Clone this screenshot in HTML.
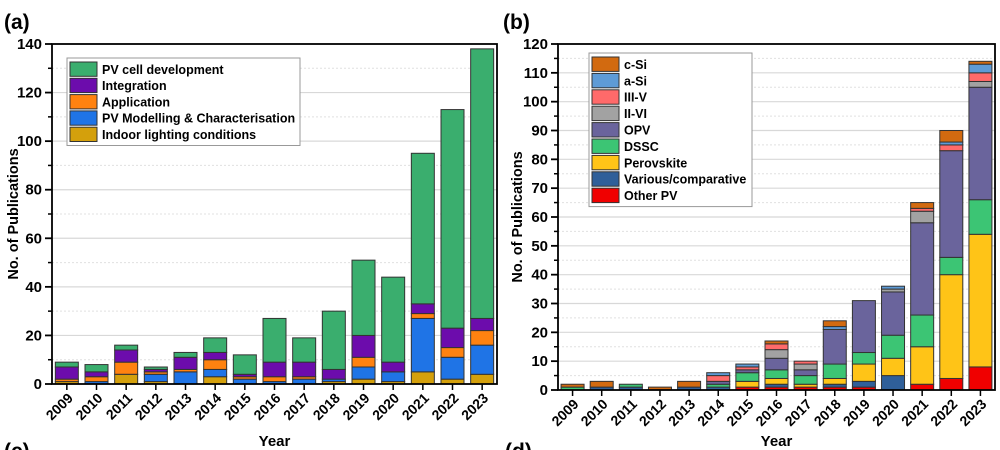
<!DOCTYPE html>
<html><head><meta charset="utf-8">
<style>
html,body{margin:0;padding:0;background:#fff;}
svg{display:block;font-family:"Liberation Sans",Arial,sans-serif;font-weight:bold;}
</style></head>
<body>
<svg id="chart" width="1000" height="450" viewBox="0 0 1000 450" xmlns="http://www.w3.org/2000/svg"></svg>
<script>
const years = ["2009","2010","2011","2012","2013","2014","2015","2016","2017","2018","2019","2020","2021","2022","2023"];
// Chart (a) series (bottom to top)
const aIndoor   = [1,0,4,1,0,3,0,0,0,1,2,1,5,2,4];
const aModel    = [0,1,0,3,5,3,2,1,2,1,5,4,22,9,12];
const aApp      = [1,2,5,1,1,4,1,2,1,0,4,0,2,4,6];
const aInteg    = [5,2,5,1,5,3,1,6,6,4,9,4,4,8,5];
const aCell     = [2,3,2,1,2,6,8,18,10,24,31,35,62,90,111];
const aTicks    = [0,20,40,60,80,100,120,140];
// Chart (b) series (bottom to top)
const bOther    = [0,0,0,0,0,0,1,1,1,1,1,0,2,4,8];
const bVarious  = [0,1,1,0,1,1,0,1,0,1,2,5,0,0,0];
const bPerov    = [0,0,0,0,0,0,2,2,1,2,6,6,13,36,46];
const bDSSC     = [1,0,1,0,0,1,3,3,3,5,4,8,11,6,12];
const bOPV      = [0,0,0,0,0,1,1,4,2,12,18,15,32,37,39];
const bIIVI     = [0,0,0,0,0,0,0,3,2,0,0,1,4,0,2];
const bIIIV     = [0,0,0,0,0,2,1,2,1,0,0,0,1,2,3];
const bASi      = [0,0,0,0,0,1,1,0,0,1,0,1,0,1,3];
const bCSi      = [1,2,0,1,2,0,0,1,0,2,0,0,2,4,1];
const bTicks    = [0,10,20,30,40,50,60,70,80,90,100,110,120];

const NS="http://www.w3.org/2000/svg";
const svg=document.getElementById('chart');
function el(tag,attrs,parent){const e=document.createElementNS(NS,tag);for(const k in attrs)e.setAttribute(k,attrs[k]);(parent||svg).appendChild(e);return e;}

function drawChart(cfg){
  const g=el('g',{});
  
  
  const {x0,x1,yTop,yBot,max}=cfg;
  const yS=v=>yBot-(v/max)*(yBot-yTop);
  const slot=(x1-x0)/years.length;
  const xC=i=>x0+slot*(i+0.5);
  cfg.ticks.forEach((t,i)=>{
    const y=yS(t);
    if(t>0&&t<max){const gl=el('line',{x1:x0,x2:x1,y1:y,y2:y,stroke:'#d8d8d8','stroke-width':1.2},g);
      }
    if(i<cfg.ticks.length-1){const ym=yS((t+cfg.ticks[i+1])/2);
      const gm=el('line',{x1:x0,x2:x1,y1:ym,y2:ym,stroke:'#e0e0e0','stroke-width':1,'stroke-dasharray':'2,2'},g);
      
      el('line',{x1:x0-4,x2:x0,y1:ym,y2:ym,stroke:'#000','stroke-width':1.5},g);}
    el('line',{x1:x0-7,x2:x0,y1:y,y2:y,stroke:'#000','stroke-width':1.8},g);
    const tx=el('text',{x:x0-10,y:y+5,'text-anchor':'end','font-size':15},g);
    tx.textContent=t;
    
  });
  years.forEach((yr,i)=>{
    let acc=0;
    cfg.series.forEach(s=>{
      const v=s.data[i];
      if(v>0){
        const r=el('rect',{x:xC(i)-cfg.bw/2,y:yS(acc+v),width:cfg.bw,height:yS(acc)-yS(acc+v),fill:s.color,stroke:'#333','stroke-width':1},g);
        
        
      }
      acc+=v;
    });
    el('line',{x1:xC(i),x2:xC(i),y1:yBot,y2:yBot+6,stroke:'#000','stroke-width':1.5},g);
    const tx=el('text',{x:0,y:0,'text-anchor':'end','font-size':14,transform:`translate(${xC(i)+7},${yBot+15}) rotate(-45)`},g);
    tx.textContent=yr;
    
  });
  const fr=el('rect',{x:x0,y:yTop,width:x1-x0,height:yBot-yTop,fill:'none',stroke:'#000','stroke-width':1.8},g);
  
  const xt=el('text',{x:(x0+x1)/2,y:446,'text-anchor':'middle','font-size':15},g);
  xt.textContent='Year';
  const cy=(yTop+yBot)/2;
  const yt=el('text',{x:0,y:0,'text-anchor':'middle','font-size':14.5,transform:`translate(${cfg.ytx},${cy}) rotate(-90)`},g);
  yt.textContent='No. of Publications';
  const pl=el('text',{x:cfg.lx,y:29,'font-size':21},g);
  pl.textContent=cfg.label;
  const L=cfg.legend;
  const lg=el('g',{},g);
  
  const items=cfg.series.slice().reverse();
  el('rect',{x:L.x,y:L.y,width:L.w,height:items.length*L.rh+6,fill:'#fff',stroke:'#999','stroke-width':1},lg);
  items.forEach((s,k)=>{
    const yy=L.y+3+k*L.rh;
    const e=el('g',{},lg);
    
    el('rect',{x:L.x+3,y:yy+1,width:27,height:L.rh-2,fill:s.color,stroke:'#333','stroke-width':1},e);
    const t=el('text',{x:L.x+35,y:yy+L.rh-3.5,'font-size':12.5},e);
    t.textContent=s.label;
  });
}

drawChart({name:'chart-a',label:'(a)',lx:4,x0:52,x1:497,yTop:44,yBot:384,max:140,bw:23,ytx:18,ticks:aTicks,
  legend:{x:67,y:58,w:233,rh:16.3},
  series:[
    {key:'indoor',label:'Indoor lighting conditions',color:'#d4a00c',data:aIndoor},
    {key:'modelling',label:'PV Modelling & Characterisation',color:'#1f74e6',data:aModel},
    {key:'application',label:'Application',color:'#ff8210',data:aApp},
    {key:'integration',label:'Integration',color:'#6c0cac',data:aInteg},
    {key:'pv-cell',label:'PV cell development',color:'#3aae6e',data:aCell}
  ]});
drawChart({name:'chart-b',label:'(b)',lx:503,x0:558,x1:995,yTop:44,yBot:390,max:120,bw:23,ytx:522,ticks:bTicks,
  legend:{x:589,y:53,w:163,rh:16.4},
  series:[
    {key:'other',label:'Other PV',color:'#f00000',data:bOther},
    {key:'various',label:'Various/comparative',color:'#2f5f99',data:bVarious},
    {key:'perovskite',label:'Perovskite',color:'#ffc417',data:bPerov},
    {key:'dssc',label:'DSSC',color:'#3cc574',data:bDSSC},
    {key:'opv',label:'OPV',color:'#6a649c',data:bOPV},
    {key:'ii-vi',label:'II-VI',color:'#a2a2a2',data:bIIVI},
    {key:'iii-v',label:'III-V',color:'#ff6a6a',data:bIIIV},
    {key:'a-si',label:'a-Si',color:'#5e9bd6',data:bASi},
    {key:'c-si',label:'c-Si',color:'#d26a10',data:bCSi}
  ]});
const c=el('text',{x:4,y:458,'font-size':21});c.textContent='(c)';

const d=el('text',{x:505,y:458,'font-size':21});d.textContent='(d)';

</script>
</body></html>
